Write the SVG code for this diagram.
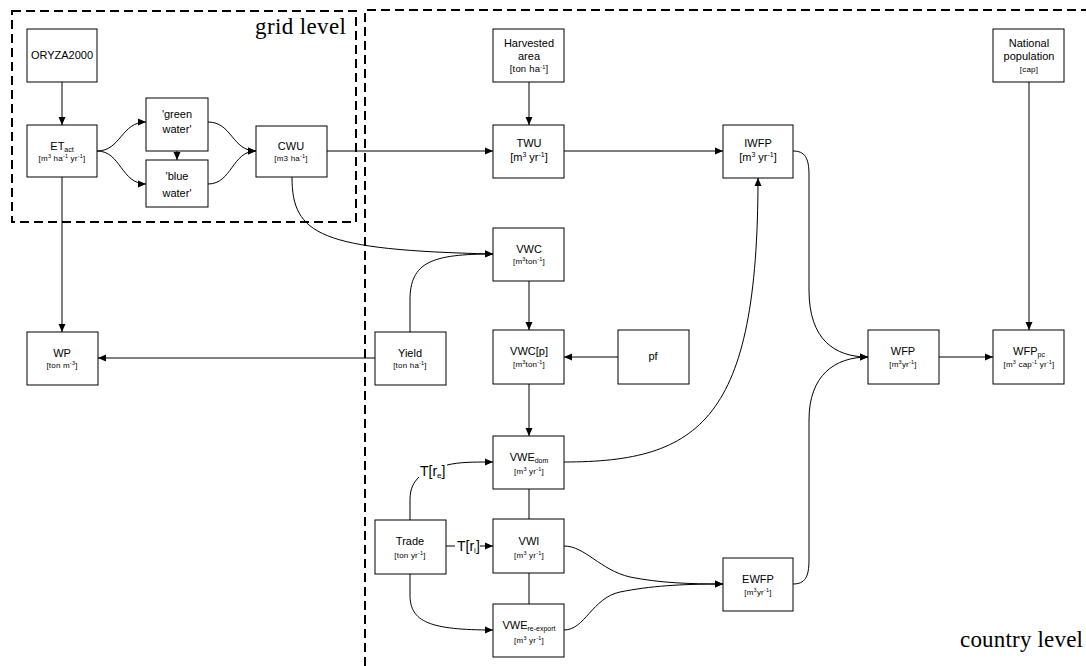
<svg xmlns="http://www.w3.org/2000/svg" width="1086" height="666" viewBox="0 0 1086 666">
  <style>
    .box { fill: #fff; stroke: #000; stroke-width: 1; }
    .t { font-family: "Liberation Sans", Arial, sans-serif; font-size: 11px; text-anchor: middle; fill: #000; }
    .u { font-family: "Liberation Sans", Arial, sans-serif; font-size: 8px; text-anchor: middle; fill: #000; letter-spacing: 0.2px; }
    .ub { font-size: 9.5px; }
    .sp { font-size: 5.5px; }
    .sb { font-size: 7px; }
    .lbl { font-family: "Liberation Sans", Arial, sans-serif; font-size: 14px; fill: #000; }
    .lsb { font-size: 8px; }
    .lvl { font-family: "Liberation Serif", "Times New Roman", serif; font-size: 23px; fill: #000; }
    .edge { fill: none; stroke: #000; stroke-width: 1; }
    .arr { marker-end: url(#ah); }
    .zone { fill: none; stroke: #000; stroke-width: 2; stroke-dasharray: 9 5; }
  </style>
  <defs>
    <marker id="ah" markerWidth="8" markerHeight="8" refX="8" refY="4" orient="auto" markerUnits="userSpaceOnUse">
      <path d="M0,0.5 L8,4 L0,7.5 z" fill="#000"/>
    </marker>
  </defs>

  <rect width="1086" height="666" fill="#fff"/>

  <!-- level boundaries -->
  <g id="levels">
    <rect class="zone" x="12" y="11" width="344" height="211"/>
    <path class="zone" d="M365,666 L365,10 L1086,10"/>
    <text class="lvl" x="255" y="34" textLength="91">grid level</text>
    <text class="lvl" x="960" y="647" textLength="123">country level</text>
  </g>

  <!-- connectors -->
  <g id="connectors">
    <path class="edge arr" d="M62,82 L62,125"/>
    <path class="edge arr" d="M97,151 C121,151 121,122 146,122"/>
    <path class="edge arr" d="M97,151 C121,151 121,184 146,184"/>
    <path class="edge arr" d="M177,151 L177,160"/>
    <path class="edge arr" d="M208,122 C232,122 232,151 256,151"/>
    <path class="edge arr" d="M208,184 C232,184 232,151 256,151"/>
    <path class="edge arr" d="M327,151 L493,151"/>
    <path class="edge arr" d="M529,82 L529,125"/>
    <path class="edge arr" d="M564,151 L723,151"/>
    <path class="edge arr" d="M1029,82 L1029,330"/>
    <path class="edge arr" d="M62,177 L62,332"/>
    <path class="edge arr" d="M375,358 L98,358"/>
    <path class="edge arr" d="M292,177 C292,235 320,250 493,254"/>
    <path class="edge arr" d="M410,332 L410,300 C410,262 432,254 493,254"/>
    <path class="edge arr" d="M529,281 L529,330"/>
    <path class="edge arr" d="M618,357 L564,357"/>
    <path class="edge arr" d="M529,384 L529,436"/>
    <path class="edge arr" d="M564,462 C700,462 758,420 758,178"/>
    <path class="edge arr" d="M793,151 C805,151 809,158 809,175 L809,290 C809,340 835,357 868,357"/>
    <path class="edge arr" d="M793,584 C805,584 809,577 809,560 L809,420 C809,375 835,357 868,357"/>
    <path class="edge arr" d="M939,357 L993,357"/>
    <path class="edge" d="M529,489 L529,519"/>
    <path class="edge" d="M529,573 L529,604"/>
    <path class="edge" d="M410,520 L410,500 C410,488 414,482 419,477"/>
    <path class="edge arr" d="M447,465 C460,462 472,462 493,462"/>
    <path class="edge" d="M446,546 L455,546"/>
    <path class="edge arr" d="M480,546 L493,546"/>
    <path class="edge arr" d="M410,574 L410,595 C410,622 430,630 493,630"/>
    <path class="edge arr" d="M564,546 C585,546 600,570 630,577 C660,583 690,584 723,584"/>
    <path class="edge arr" d="M564,630 C585,630 592,598 620,592 C650,586 680,584 723,584"/>
    <text class="lbl" x="420" y="476">T[r<tspan class="lsb" dy="2">e</tspan><tspan dy="-2">]</tspan></text>
    <text class="lbl" x="457" y="551">T[r<tspan class="lsb" dy="2">i</tspan><tspan dy="-2">]</tspan></text>
  </g>

  <!-- nodes -->
  <g id="oryza">
    <rect class="box" x="27" y="29" width="70" height="53"/>
    <text class="t" x="62" y="59">ORYZA2000</text>
  </g>
  <g id="et-act">
    <rect class="box" x="27" y="125" width="70" height="52"/>
    <text class="t" x="62" y="150">ET<tspan class="sb" dy="2">act</tspan></text>
    <text class="u" x="62" y="161">[m<tspan class="sp" dy="-3">3</tspan><tspan dy="3"> ha</tspan><tspan class="sp" dy="-3">-1</tspan><tspan dy="3"> yr</tspan><tspan class="sp" dy="-3">-1</tspan><tspan dy="3">]</tspan></text>
  </g>
  <g id="green-water">
    <rect class="box" x="146" y="98" width="62" height="53"/>
    <text class="t" x="177" y="118">'green</text>
    <text class="t" x="177" y="133">water'</text>
  </g>
  <g id="blue-water">
    <rect class="box" x="146" y="160" width="62" height="47"/>
    <text class="t" x="177" y="180">'blue</text>
    <text class="t" x="177" y="197">water'</text>
  </g>
  <g id="cwu">
    <rect class="box" x="256" y="126" width="71" height="51"/>
    <text class="t" x="291" y="150">CWU</text>
    <text class="u" x="291" y="161">[m3 ha<tspan class="sp" dy="-3">-1</tspan><tspan dy="3">]</tspan></text>
  </g>
  <g id="harvested-area">
    <rect class="box" x="493" y="29" width="71" height="53"/>
    <text class="t" x="529" y="47">Harvested</text>
    <text class="t" x="529" y="60">area</text>
    <text class="u ub" x="529" y="72">[ton ha<tspan class="sp" dy="-3">-1</tspan><tspan dy="3">]</tspan></text>
  </g>
  <g id="twu">
    <rect class="box" x="493" y="125" width="71" height="53"/>
    <text class="t" x="529" y="147">TWU</text>
    <text class="t" x="529" y="161">[m<tspan class="sb" dy="-4">3</tspan><tspan dy="4"> yr</tspan><tspan class="sb" dy="-4">-1</tspan><tspan dy="4">]</tspan></text>
  </g>
  <g id="iwfp">
    <rect class="box" x="723" y="125" width="70" height="53"/>
    <text class="t" x="758" y="147">IWFP</text>
    <text class="t" x="758" y="161">[m<tspan class="sb" dy="-4">3</tspan><tspan dy="4"> yr</tspan><tspan class="sb" dy="-4">-1</tspan><tspan dy="4">]</tspan></text>
  </g>
  <g id="national-population">
    <rect class="box" x="993" y="29" width="71" height="53"/>
    <text class="t" x="1029" y="47">National</text>
    <text class="t" x="1029" y="60">population</text>
    <text class="u" x="1029" y="72">[cap]</text>
  </g>
  <g id="wp">
    <rect class="box" x="27" y="332" width="71" height="53"/>
    <text class="t" x="62" y="357">WP</text>
    <text class="u" x="62" y="368">[ton m<tspan class="sp" dy="-3">-3</tspan><tspan dy="3">]</tspan></text>
  </g>
  <g id="yield">
    <rect class="box" x="375" y="332" width="71" height="53"/>
    <text class="t" x="410" y="357">Yield</text>
    <text class="u" x="410" y="368">[ton ha<tspan class="sp" dy="-3">-1</tspan><tspan dy="3">]</tspan></text>
  </g>
  <g id="vwc">
    <rect class="box" x="493" y="228" width="71" height="53"/>
    <text class="t" x="529" y="253">VWC</text>
    <text class="u" x="529" y="264">[m<tspan class="sp" dy="-3">3</tspan><tspan dy="3">ton</tspan><tspan class="sp" dy="-3">-1</tspan><tspan dy="3">]</tspan></text>
  </g>
  <g id="vwc-p">
    <rect class="box" x="493" y="330" width="71" height="54"/>
    <text class="t" x="529" y="355">VWC[p]</text>
    <text class="u" x="529" y="367">[m<tspan class="sp" dy="-3">3</tspan><tspan dy="3">ton</tspan><tspan class="sp" dy="-3">-1</tspan><tspan dy="3">]</tspan></text>
  </g>
  <g id="pf">
    <rect class="box" x="618" y="330" width="71" height="54"/>
    <text class="t" x="653" y="360">pf</text>
  </g>
  <g id="wfp">
    <rect class="box" x="868" y="330" width="71" height="54"/>
    <text class="t" x="903" y="355">WFP</text>
    <text class="u" x="903" y="367">[m<tspan class="sp" dy="-3">3</tspan><tspan dy="3">yr</tspan><tspan class="sp" dy="-3">-1</tspan><tspan dy="3">]</tspan></text>
  </g>
  <g id="wfp-pc">
    <rect class="box" x="993" y="330" width="71" height="54"/>
    <text class="t" x="1029" y="355">WFP<tspan class="sb" dy="2">pc</tspan></text>
    <text class="u" x="1029" y="367">[m<tspan class="sp" dy="-3">3</tspan><tspan dy="3"> cap</tspan><tspan class="sp" dy="-3">-1</tspan><tspan dy="3"> yr</tspan><tspan class="sp" dy="-3">-1</tspan><tspan dy="3">]</tspan></text>
  </g>
  <g id="vwe-dom">
    <rect class="box" x="493" y="436" width="71" height="53"/>
    <text class="t" x="529" y="461">VWE<tspan class="sb" dy="2">dom</tspan></text>
    <text class="u" x="529" y="474">[m<tspan class="sp" dy="-3">3</tspan><tspan dy="3"> yr</tspan><tspan class="sp" dy="-3">-1</tspan><tspan dy="3">]</tspan></text>
  </g>
  <g id="vwi">
    <rect class="box" x="493" y="519" width="71" height="54"/>
    <text class="t" x="529" y="545">VWI</text>
    <text class="u" x="529" y="558">[m<tspan class="sp" dy="-3">3</tspan><tspan dy="3"> yr</tspan><tspan class="sp" dy="-3">-1</tspan><tspan dy="3">]</tspan></text>
  </g>
  <g id="vwe-re-export">
    <rect class="box" x="493" y="604" width="71" height="53"/>
    <text class="t" x="529" y="629">VWE<tspan class="sb" dy="2">re-export</tspan></text>
    <text class="u" x="529" y="643">[m<tspan class="sp" dy="-3">3</tspan><tspan dy="3"> yr</tspan><tspan class="sp" dy="-3">-1</tspan><tspan dy="3">]</tspan></text>
  </g>
  <g id="trade">
    <rect class="box" x="375" y="520" width="71" height="54"/>
    <text class="t" x="410" y="545">Trade</text>
    <text class="u" x="410" y="558">[ton yr<tspan class="sp" dy="-3">-1</tspan><tspan dy="3">]</tspan></text>
  </g>
  <g id="ewfp">
    <rect class="box" x="723" y="558" width="70" height="53"/>
    <text class="t" x="758" y="583">EWFP</text>
    <text class="u" x="758" y="595">[m<tspan class="sp" dy="-3">3</tspan><tspan dy="3">yr</tspan><tspan class="sp" dy="-3">-1</tspan><tspan dy="3">]</tspan></text>
  </g>
</svg>
